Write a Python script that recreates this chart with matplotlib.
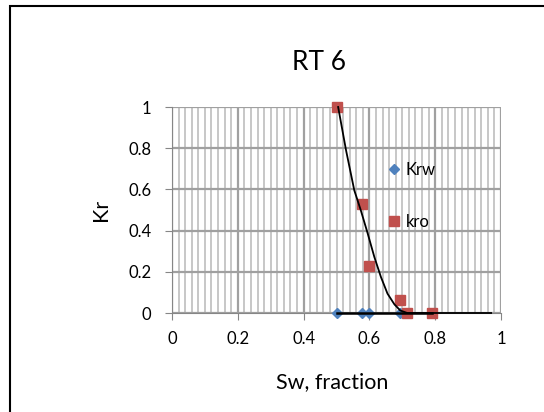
import matplotlib.pyplot as plt
from matplotlib.patches import Rectangle

# data
sw = [0.503, 0.579, 0.598, 0.694, 0.714, 0.789]
krw = [0, 0, 0, 0, 0, 0]
kro = [1.0, 0.531, 0.227, 0.062, 0.0, 0.0]

# trend line through kro
trend_x = [0.505, 0.529, 0.554, 0.574, 0.595, 0.615, 0.635, 0.655, 0.676, 0.694, 0.715, 0.80, 0.97]
trend_y = [1.0, 0.79, 0.596, 0.498, 0.385, 0.272, 0.175, 0.094, 0.042, 0.012, 0.0, 0.0, 0.0]
krw_trend_x = [0.503, 0.789]
krw_trend_y = [0, 0]

plt.rcParams['font.family'] = ['Lato', 'DejaVu Sans']

fig = plt.figure(figsize=(5.44, 4.12), dpi=100)
W, H = 544, 412
ax = fig.add_axes([172 / W, 1 - 313 / H, (501 - 172) / W, (313 - 107) / H])

# outer chart border
fig.patches.append(Rectangle((10 / W, -0.1), 1.2, 1 - 6 / H + 0.1, transform=fig.transFigure,
                             fill=False, edgecolor='black', linewidth=1.5))

ax.set_xlim(0, 1)
ax.set_ylim(0, 1)
ax.set_xticks([0, 0.2, 0.4, 0.6, 0.8, 1])
ax.set_xticklabels(['0', '0.2', '0.4', '0.6', '0.8', '1'])
ax.set_yticks([0, 0.2, 0.4, 0.6, 0.8, 1])
ax.set_yticklabels(['0', '0.2', '0.4', '0.6', '0.8', '1'])
ax.set_xticks([i * 0.02 for i in range(51)], minor=True)

ax.grid(True, which='major', color='#a0a0a0', linewidth=1.6)
ax.grid(True, which='minor', axis='x', color='#b8b8b8', linewidth=1.1)
ax.set_axisbelow(True)
for s in ['top', 'right']:
    ax.spines[s].set_visible(False)
for s in ['left', 'bottom']:
    ax.spines[s].set_color('#868686')
ax.tick_params(which='major', length=5, color='#868686', labelsize=12, pad=8)
ax.tick_params(which='minor', length=0)
ax.tick_params(axis='y', pad=10)

ax.plot(sw, krw, linestyle='none', marker='D', markersize=5.5, color='#4f81bd',
        label='Krw', clip_on=False, zorder=3)
ax.plot(sw, kro, linestyle='none', marker='s', markersize=7, color='#c0504d',
        label='kro', clip_on=False, zorder=4)
ax.plot(krw_trend_x, krw_trend_y, color='black', linewidth=1.8, clip_on=False, zorder=5)
ax.plot(trend_x, trend_y, color='black', linewidth=1.3, clip_on=False, zorder=5)

ax.legend(loc='upper left', bbox_to_anchor=(0.63, 0.772), frameon=False, fontsize=12,
          handlelength=0.8, handletextpad=0.3, labelspacing=2.15, borderpad=0)

ax.set_ylabel('Kr', fontsize=15.5, labelpad=12)
fig.text(319 / W, 1 - 62 / H, 'RT 6', fontsize=19, ha='center', va='center')
fig.text(332 / W, 1 - 382 / H, 'Sw, fraction', fontsize=15.5, ha='center', va='center')

fig.savefig('out.png', dpi=100)
